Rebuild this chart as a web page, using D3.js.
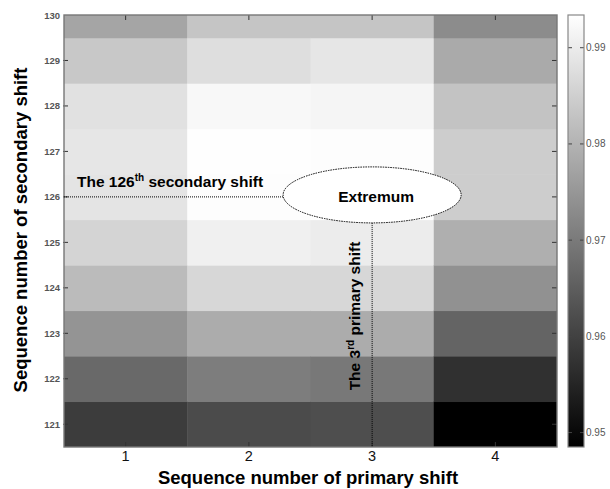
<!DOCTYPE html>
<html>
<head>
<meta charset="utf-8">
<script src="https://cdn.jsdelivr.net/npm/d3@7"></script>
<style>
  html, body { margin: 0; padding: 0; background: #fff; }
  svg { display: block; font-family: "Liberation Sans", Arial, sans-serif; }
</style>
</head>
<body>
<svg id="chart" width="610" height="489"></svg>
<script>
// Primary shift numbers (columns) and secondary shift numbers (rows)
const primaryShifts = [1, 2, 3, 4];
const secondaryShifts = [121, 122, 123, 124, 125, 126, 127, 128, 129, 130];

// Similarity per primary shift, listed for secondary shifts 121 … 130
const primary1Values = [0.9591, 0.9670, 0.9746, 0.9814, 0.9858, 0.9886, 0.9890, 0.9881, 0.9837, 0.9776];
const primary2Values = [0.9617, 0.9705, 0.9788, 0.9864, 0.9908, 0.9931, 0.9932, 0.9922, 0.9876, 0.9832];
const primary3Values = [0.9622, 0.9696, 0.9788, 0.9864, 0.9901, 0.9934, 0.9930, 0.9916, 0.9890, 0.9832];
const primary4Values = [0.9485, 0.9570, 0.9661, 0.9740, 0.9793, 0.9846, 0.9846, 0.9828, 0.9784, 0.9732];

const colorbarTicks = [0.95, 0.96, 0.97, 0.98, 0.99];
const colorbarTickLabels = ["0.95", "0.96", "0.97", "0.98", "0.99"];

// Marked extremum
const extremumPrimary = 3;
const extremumSecondary = 126;

const columns = [primary1Values, primary2Values, primary3Values, primary4Values];
const cells = [];
primaryShifts.forEach((p, i) => {
  secondaryShifts.forEach((s, j) => cells.push({ p, s, v: columns[i][j] }));
});

const svg = d3.select("#chart");
const plot = { left: 64, right: 557, top: 15, bottom: 447 };
const font = '"Liberation Sans", Arial, sans-serif';

const x = d3.scaleLinear().domain([0.5, 4.5]).range([plot.left, plot.right]);
const y = d3.scaleLinear().domain([120.5, 130]).range([plot.bottom, plot.top]);

const extent = d3.extent(cells, d => d.v);
const color = d3.scaleLinear().domain(extent).range(["#000000", "#ffffff"]).interpolate(d3.interpolateRgb);

svg.append("defs").append("clipPath").attr("id", "plotClip")
  .append("rect")
  .attr("x", plot.left).attr("y", plot.top)
  .attr("width", plot.right - plot.left).attr("height", plot.bottom - plot.top);

// Heat map cells
svg.append("g").attr("clip-path", "url(#plotClip)")
  .selectAll("rect").data(cells).join("rect")
  .attr("x", d => x(d.p - 0.5))
  .attr("y", d => y(d.s + 0.5))
  .attr("width", d => x(d.p + 0.5) - x(d.p - 0.5) + 0.5)
  .attr("height", d => y(d.s - 0.5) - y(d.s + 0.5) + 0.5)
  .attr("fill", d => color(d.v));

// Inward ticks on all four sides
const tickLen = 5;
const ticks = svg.append("g").attr("stroke", "#333").attr("stroke-width", 1);
secondaryShifts.filter(s => s < 130).forEach(s => {
  ticks.append("line").attr("x1", plot.left - 1).attr("x2", plot.left + tickLen - 1).attr("y1", y(s)).attr("y2", y(s));
  ticks.append("line").attr("x1", plot.right - tickLen).attr("x2", plot.right).attr("y1", y(s)).attr("y2", y(s));
});
primaryShifts.forEach(p => {
  ticks.append("line").attr("x1", x(p)).attr("x2", x(p)).attr("y1", plot.bottom).attr("y2", plot.bottom - tickLen);
  ticks.append("line").attr("x1", x(p)).attr("x2", x(p)).attr("y1", plot.top).attr("y2", plot.top + tickLen);
});

// Axes frame
svg.append("rect")
  .attr("x", plot.left).attr("y", plot.top)
  .attr("width", plot.right - plot.left).attr("height", plot.bottom - plot.top)
  .attr("fill", "none").attr("stroke", "#777").attr("stroke-width", 1.4);

// Y tick labels
svg.append("g").selectAll("text").data(secondaryShifts).join("text")
  .attr("x", plot.left - 4)
  .attr("y", d => y(d) + 3.5)
  .attr("text-anchor", "end")
  .attr("font-size", 9.5).attr("font-weight", "bold").attr("fill", "#555")
  .text(d => d);

// X tick labels
svg.append("g").selectAll("text").data(primaryShifts).join("text")
  .attr("x", d => x(d))
  .attr("y", 461)
  .attr("text-anchor", "middle")
  .attr("font-size", 14.5).attr("fill", "#111")
  .text(d => d);

// Axis titles
svg.append("text")
  .attr("x", 308).attr("y", 484)
  .attr("text-anchor", "middle")
  .attr("font-size", 18.5).attr("font-weight", "bold").attr("fill", "#000")
  .text("Sequence number of primary shift");

svg.append("text")
  .attr("transform", "translate(27,230) rotate(-90)")
  .attr("text-anchor", "middle")
  .attr("font-size", 18.5).attr("font-weight", "bold").attr("fill", "#000")
  .text("Sequence number of secondary shift");

// Colour bar
const bar = { x: 568, w: 16, top: plot.top, bottom: plot.bottom };
const cb = d3.scaleLinear().domain(extent).range([bar.bottom, bar.top]);
const grad = svg.select("defs").append("linearGradient")
  .attr("id", "barGrad").attr("x1", 0).attr("y1", 1).attr("x2", 0).attr("y2", 0);
grad.append("stop").attr("offset", 0).attr("stop-color", color(extent[0]));
grad.append("stop").attr("offset", 1).attr("stop-color", color(extent[1]));

svg.append("rect")
  .attr("x", bar.x).attr("y", bar.top)
  .attr("width", bar.w).attr("height", bar.bottom - bar.top)
  .attr("fill", "url(#barGrad)");

const cbTicks = svg.append("g").attr("stroke", "#444").attr("stroke-width", 1);
colorbarTicks.forEach(t => {
  cbTicks.append("line").attr("x1", bar.x).attr("x2", bar.x + 4).attr("y1", cb(t)).attr("y2", cb(t));
  cbTicks.append("line").attr("x1", bar.x + bar.w - 4).attr("x2", bar.x + bar.w).attr("y1", cb(t)).attr("y2", cb(t));
});

svg.append("rect")
  .attr("x", bar.x).attr("y", bar.top)
  .attr("width", bar.w).attr("height", bar.bottom - bar.top)
  .attr("fill", "none").attr("stroke", "#888").attr("stroke-width", 1.2);

svg.append("g").selectAll("text").data(colorbarTicks).join("text")
  .attr("x", bar.x + bar.w + 2)
  .attr("y", (d, i) => cb(d) + 3.5)
  .attr("font-size", 10).attr("fill", "#555")
  .text((d, i) => colorbarTickLabels[i]);

// Extremum annotation
const ex = x(extremumPrimary);
const ey = y(extremumSecondary);
const ell = { cx: ex, cy: ey - 2, rx: 89, ry: 28 };
const note = svg.append("g");

note.append("line")
  .attr("x1", plot.left).attr("x2", ell.cx - ell.rx)
  .attr("y1", ey).attr("y2", ey)
  .attr("stroke", "#000").attr("stroke-width", 1).attr("stroke-dasharray", "1,1");

note.append("line")
  .attr("x1", ex).attr("x2", ex)
  .attr("y1", ell.cy + ell.ry).attr("y2", plot.bottom)
  .attr("stroke", "#000").attr("stroke-width", 1).attr("stroke-dasharray", "1,1");

note.append("ellipse")
  .attr("cx", ell.cx).attr("cy", ell.cy).attr("rx", ell.rx).attr("ry", ell.ry)
  .attr("fill", "#fff").attr("stroke", "#000").attr("stroke-width", 1).attr("stroke-dasharray", "1.5,1");

note.append("text")
  .attr("x", ell.cx + 4).attr("y", ell.cy + 7)
  .attr("text-anchor", "middle")
  .attr("font-size", 15.5).attr("font-weight", "bold").attr("fill", "#000")
  .text("Extremum");

const hLabel = note.append("text")
  .attr("x", 77).attr("y", ey - 10)
  .attr("font-size", 15.5).attr("font-weight", "bold").attr("fill", "#000");
hLabel.append("tspan").text("The " + extremumSecondary);
hLabel.append("tspan").attr("font-size", 10).attr("dy", -6).text("th");
hLabel.append("tspan").attr("dy", 6).text(" secondary shift");

const vLabel = note.append("text")
  .attr("transform", `translate(${ex - 12},316) rotate(-90)`)
  .attr("text-anchor", "middle")
  .attr("font-size", 15.5).attr("font-weight", "bold").attr("fill", "#000");
vLabel.append("tspan").text("The " + extremumPrimary);
vLabel.append("tspan").attr("font-size", 10).attr("dy", -6).text("rd");
vLabel.append("tspan").attr("dy", 6).text(" primary shift");
</script>
</body>
</html>
